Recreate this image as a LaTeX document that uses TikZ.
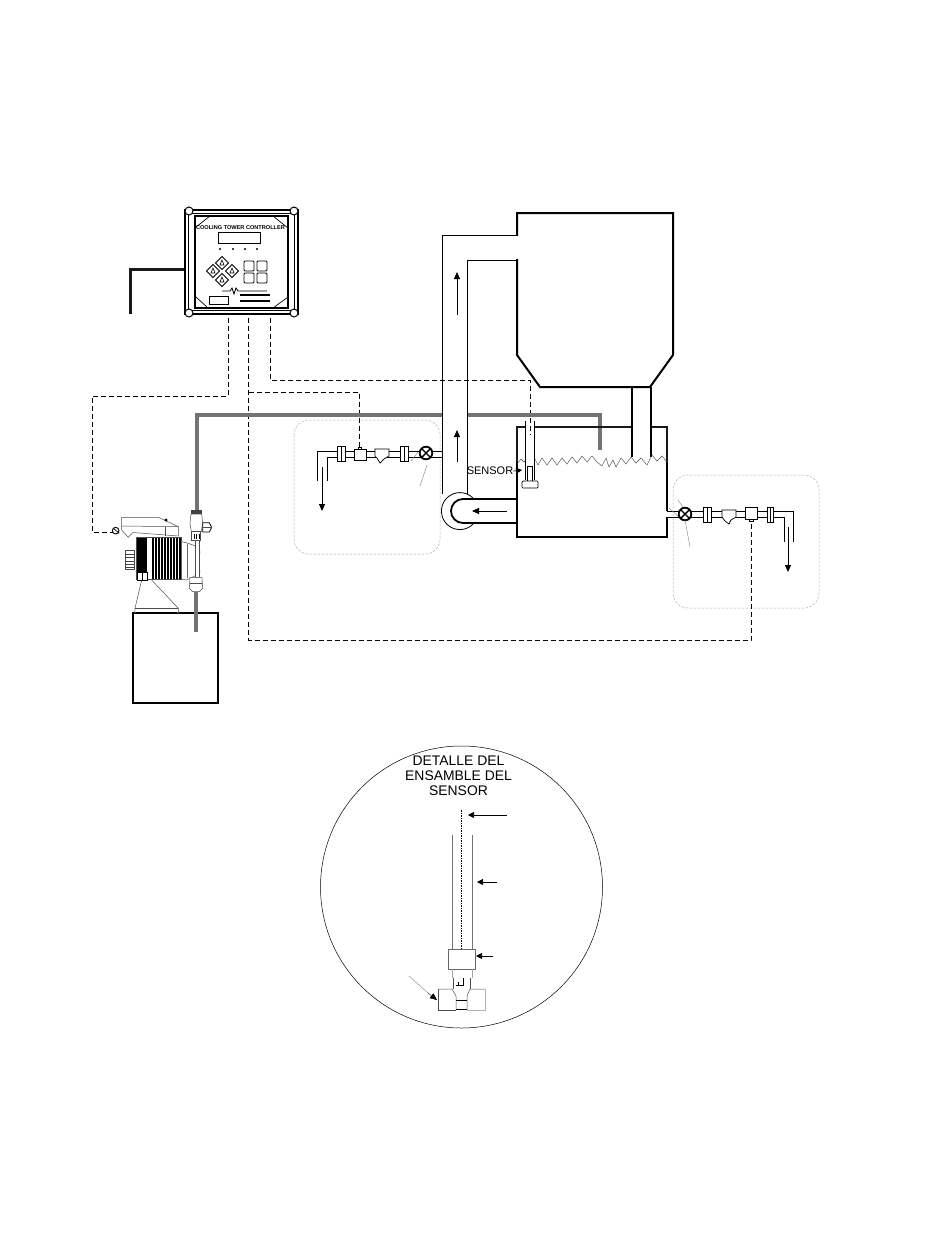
\documentclass[tikz,border=0pt]{standalone}
\usepackage{fontspec}
\setmainfont{Liberation Sans}
\usetikzlibrary{arrows.meta}
\tikzset{
 pipe/.style={line width=0.9pt,black},
 ln/.style={line width=0.7pt,black},
 thin1/.style={line width=0.4pt,black!70},
 leader/.style={line width=0.4pt,black!50},
 dash1/.style={line width=0.8pt,black,dash pattern=on 5pt off 3pt},
 greybox/.style={line width=0.5pt,black!30,dash pattern=on 2.5pt off 1.5pt,rounded corners=15pt},
 greypipe/.style={line width=4pt,black!55},
 wall/.style={line width=1.8pt,black!90},
 flow/.style={line width=0.8pt,black,-{Triangle[length=7pt,width=6pt]}},
 flowthin/.style={line width=0.7pt,black,-{Triangle[length=6pt,width=6pt]}},
 wave/.style={line width=0.4pt,black!75},
 fin/.style={line width=1.8pt,black},
 pumpl/.style={line width=0.5pt,black!70},
}
\begin{document}
\begin{tikzpicture}[x=1pt,y=-1pt]
\useasboundingbox (0,0) rectangle (950,1248);
\fill[white] (0,0) rectangle (950,1248);
% grey dashed enclosures
\draw[greybox] (294,420) rectangle (440,554);
\draw[greybox] (673,475) rectangle (819,608);
% controller
\draw[line width=3pt,black!90] (184,269) -- (130,269) -- (130,314);
\draw[line width=1.6pt] (185,210) rectangle (298,314);
\draw[line width=0.6pt] (188,213) rectangle (294,310);
\draw[line width=1.4pt] (195,216) rectangle (288,308);
\foreach \cx/\cy in {189/211,294/211,189/313,294/313}
 \draw[line width=1pt,fill=white] (\cx,\cy) circle (4);
\foreach \ax/\ay/\bx/\by in {196/227/210/216,273/216/288/228,196/297/208/308,273/308/288/297}
 \draw[line width=0.7pt] (\ax,\ay) -- (\bx,\by);
\node[font=\bfseries\fontsize{5.6}{7}\selectfont,inner sep=0] (ctitle) at (240.5,228) {COOLING TOWER CONTROLLER};
\draw[line width=0.7pt] (218,232) rectangle (260,243);
\foreach \dx in {220,233,245,257} \fill (\dx,249) circle (1.2);
\foreach \kx/\ky in {222/263,232/271,222/280,213/271}{
 \draw[line width=0.8pt] (\kx-6.5,\ky) -- (\kx,\ky-6.5) -- (\kx+6.5,\ky) -- (\kx,\ky+6.5) -- cycle;
 \draw[line width=0.6pt] (\kx-2,\ky+2) -- (\kx,\ky-3) -- (\kx+2,\ky+2) -- cycle;
}
\foreach \kx/\ky in {244/261,257/261,244/273,257/273}
 \draw[line width=0.8pt,rounded corners=1pt] (\kx,\ky) rectangle ++(10,10);
\draw[line width=0.8pt] (209,296) rectangle (228,304);
\draw[line width=0.8pt] (222,291) -- (230,291) -- (232,288) -- (234,294) -- (236,288) -- (238,291) -- (267,291);
\draw[line width=1.2pt] (240,295) -- (270,295);
\draw[line width=1.2pt] (240,301) -- (270,301);
% dashed signal lines
\draw[dash1] (228,318) -- (228,396) -- (92,396) -- (92,532) -- (113,532);
\draw[dash1] (248.5,318) -- (248.5,640) -- (751,640) -- (751,521);
\draw[dash1] (248.5,392) -- (359,392) -- (359,447);
\draw[dash1] (270,318) -- (270,380) -- (530,380) -- (530,435);
% chemical line
\draw[greypipe] (197,512) -- (197,415) -- (600,415) -- (600,450);
\draw[greypipe] (196,592) -- (196,632);
% return pipes (over the grey line)
\fill[white] (443,408) rectangle (467,422);
\draw[pipe] (517,235) -- (442,235) -- (442,494);
\draw[pipe] (517,260) -- (467.5,260) -- (467.5,495);
\draw[flow] (457,315) -- (457,272);
\draw[flow] (457,462) -- (457,430);
% pump circle
\draw[line width=0.8pt] (473,498) arc (315:45:18.5);
\draw[line width=1.8pt] (517,499) -- (463,499) arc (270:90:12) -- (517,523);
\draw[flow] (507,511) -- (472,511);
% tank
\draw[line width=1.2pt] (517,462) -- (517,537) -- (667,537) -- (667,517);
\draw[line width=1.2pt] (667,511) -- (667,462);
\draw[wall] (517,462) -- (517,427) -- (525,427);
\draw[wall] (534,427) -- (632,427);
\draw[wall] (651,427) -- (667,427) -- (667,462);
% tower
\draw[line width=2pt,fill=white] (517,213) -- (673,213) -- (673,355) -- (650,387) -- (540,387) -- (517,355) -- cycle;
\fill[white] (515,236) rectangle (519,259);
\draw[line width=1.8pt] (632,387) -- (632,457);
\draw[line width=1.8pt] (651,387) -- (651,457);
% water
\draw[wave] (517,464) -- (521,459) -- (524,462) -- (525,461);
\draw[wave] (535,459) -- (538,465) -- (542,458) -- (547,465) -- (552,458) -- (557,465) -- (562,458) -- (567,464) -- (572,457) -- (577,463) -- (582,456) -- (587,462) -- (592,456) -- (597,462) -- (602,466) -- (606,458) -- (609,467) -- (613,460) -- (616,467) -- (621,458) -- (626,464) -- (631,457) -- (636,463) -- (641,458) -- (647,465) -- (652,455) -- (657,461) -- (662,456) -- (667,462);
% sensor in tank
\draw[line width=0.7pt,fill=white] (525,421) -- (525,480) (534,421) -- (534,480);
\draw[line width=0.6pt,fill=white] (527,466) rectangle (532,481);
\draw[line width=0.7pt,fill=white,rounded corners=1pt] (522,481) rectangle (538,488);
\node[font=\fontsize{11}{13}\selectfont,inner sep=0] (sensorlbl) at (490,471) {SENSOR};
\coordinate (sensortip) at (522,470);
\draw[flowthin] (sensorlbl.east) -- (sensortip);
% left outlet
\draw[pipe] (442,451) -- (317,451) -- (317,481);
\draw[pipe] (442,457) -- (327,457) -- (327,481);
\fill[white] (434,452) rectangle (441,456);
\draw[flow] (322,467) -- (322,511);
\draw[ln,fill=white] (337,446) rectangle (345,461);
\draw[ln] (341,446) -- (341,461);
\draw[ln,fill=white] (354,449) rectangle (366,460);
\draw[ln,fill=white] (358,447) rectangle (361,449);
\draw[ln,fill=white] (375,449) -- (389,449) -- (389,456) -- (384,459) -- (380,463) -- (377,458) -- (375,456) -- cycle;
\draw[ln,fill=white] (400,446) rectangle (408,461);
\draw[ln] (404,446) -- (404,461);
\draw[line width=1.8pt,fill=white] (426,453) circle (6.3);
\draw[line width=1.4pt] (422,449) -- (430,457) (430,449) -- (422,457);
\draw[leader] (420,486) -- (427,465);
\draw[leader] (411,461) -- (418,452);
% right outlet
\draw[pipe] (667,511) -- (793,511) -- (793,542);
\draw[pipe] (667,517) -- (784,517) -- (784,542);
\draw[flow] (788,527) -- (788,572);
\draw[ln,fill=white] (703,507) rectangle (711,522);
\draw[ln] (707,507) -- (707,522);
\draw[ln,fill=white] (722,510) -- (736,510) -- (736,517) -- (731,520) -- (729,524) -- (725,521) -- (722,517) -- cycle;
\draw[ln,fill=white] (745,507) rectangle (757,519);
\draw[ln,fill=white] (749,519) rectangle (753,521);
\draw[ln,fill=white] (767,507) rectangle (773,522);
\draw[ln] (770,507) -- (770,522);
\draw[line width=1.8pt,fill=white] (685,514) circle (6.3);
\draw[line width=1.4pt] (681,510) -- (689,518) (689,510) -- (681,518);
\draw[leader] (690,547) -- (685,520);
\draw[leader] (669,508) -- (678,516);
\draw[leader] (678,500) -- (683,507);
% chemical tank
\draw[line width=1.3pt,fill=white] (133,613) rectangle (218,703);
\draw[greypipe] (196,606) -- (196,632);
% metering pump, in the 3x crop's coordinates
\begin{scope}[shift={(80,500)},x=0.3333pt,y=-0.3333pt]
 \draw[pumpl,fill=white] (185,240) -- (165,325) -- (165,340) (295,340) -- (295,325) -- (215,240);
 \draw[pumpl] (165,325) -- (295,325);
 \draw[pumpl,fill=white] (125,52) -- (235,52) -- (295,80) -- (295,108) -- (165,98) -- (158,98) -- (145,112) -- (125,90) -- cycle;
 \draw[pumpl] (125,78) -- (295,80);
 \draw[pumpl] (255,80) -- (255,108);
 \fill (258,60) circle (5);
 \draw[line width=0.9pt,fill=white] (107,92) circle (10);
 \draw[line width=0.7pt] (100,85) -- (118,100);
 % knob
 \draw[pumpl] (135,152) -- (162,152) -- (162,208) -- (135,208) -- cycle;
 \foreach \ky in {163,173,183,193,203} \draw[line width=0.8pt,black!75] (135,\ky) -- (162,\ky);
 % finned block
 \draw[pumpl,fill=white] (170,113) rectangle (305,238);
 \foreach \fx in {174,180,186,192,198,220,229,238,247,256,265,274,283,292,300}
  \draw[fin] (\fx,115) -- (\fx,236);
 \draw[line width=1pt,fill=white] (172,218) rectangle (203,242);
 \draw[line width=1pt] (188,218) -- (188,242);
 % right cap
 \draw[pumpl,fill=white] (305,125) -- (325,130) -- (352,140) -- (360,155) -- (355,200) -- (360,215) -- (350,225) -- (320,240) -- (305,238) -- cycle;
 \draw[line width=1pt,black!60] (322,132) -- (322,235);
 \fill[black!55] (356,150) circle (3);
 \fill[black!55] (356,208) circle (3);
 % liquid-end fittings
 \fill[black!75] (333,30) rectangle (365,42);
 \draw[pumpl,fill=white] (333,42) -- (365,42) -- (368,70) -- (364,95) -- (334,95) -- (330,70) -- cycle;
 \draw[pumpl,fill=white] (335,95) rectangle (362,122);
 \foreach \vx in {342,350,358} \draw[line width=0.8pt] (\vx,102) -- (\vx,118);
 \draw[pumpl,fill=white] (345,122) rectangle (358,232);
 \draw[line width=0.8pt,fill=white] (368,68) -- (388,68) -- (395,82) -- (388,96) -- (368,96) -- cycle;
 \draw[pumpl] (368,82) -- (395,82);
 \draw[pumpl,fill=white] (330,232) -- (366,232) -- (368,265) -- (358,275) -- (338,275) -- (328,265) -- cycle;
 \draw[pumpl] (330,250) -- (366,250);
\end{scope}
% detail
\draw[line width=0.5pt] (461.5,887) circle (141);
\node[font=\fontsize{13.9}{15}\selectfont,align=center,inner sep=0] (dtitle) at (458.5,776) {DETALLE DEL\\ENSAMBLE DEL\\SENSOR};
\coordinate (c1) at (468,815);
\coordinate (c2) at (477,882);
\coordinate (c3) at (476,956);
\draw[flowthin] (507,815) -- (c1);
\draw[flowthin] (497,882) -- (c2);
\draw[flowthin] (493,956) -- (c3);
\draw[line width=0.9pt,black!55] (452,835) -- (452,949) (472,835) -- (472,949);
\draw[line width=0.9pt,dash pattern=on 1.5pt off 1pt] (461,810) -- (461,949);
\draw[line width=0.7pt,black!60] (448,949) rectangle (475,969);
\draw[line width=0.8pt,black!35] (452,969) -- (452,978) (472,969) -- (472,978);
\draw[line width=0.5pt,black!70] (438,989) -- (452,989) -- (456,996) -- (456,1010);
\draw[line width=0.5pt,black!70] (485,989) -- (470,989) -- (467,996) -- (467,1010);
\draw[line width=0.5pt,black!70] (438,989) -- (438,1010) -- (456,1010);
\draw[line width=0.5pt,black!30] (485,989) -- (485,1010) -- (467,1010);
\draw[line width=0.5pt,black!70] (453,978) -- (453,989) (470,978) -- (470,989);
\draw[line width=0.7pt] (456,1000) -- (467,1000) (456,1009) -- (467,1009);
\draw[line width=0.7pt] (456,985) -- (463,985) -- (463,978) (458,985) -- (458,982);
\coordinate (c4) at (437,1000);
\draw[leader] (409,976) -- (428,993);
\draw[black,-{Triangle[length=7pt,width=6pt]},line width=0.4pt] (428,993) -- (c4);
\end{tikzpicture}
\end{document}
